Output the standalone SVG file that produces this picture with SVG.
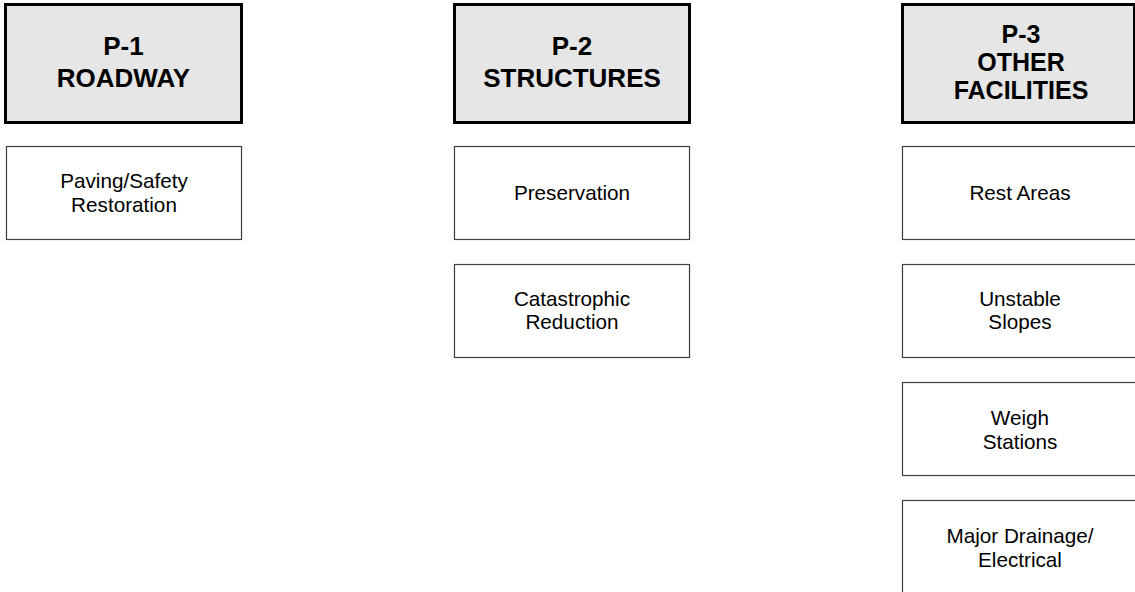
<svg xmlns="http://www.w3.org/2000/svg" width="1135" height="592" viewBox="0 0 1135 592">
<style>
.hdr{fill:#e6e6e6;stroke:#000;stroke-width:3}
.sub{fill:#fff;stroke:#404040;stroke-width:1.2}
.ht{font-family:"Liberation Sans",Arial,sans-serif;font-weight:bold;font-size:26px;fill:#000;text-anchor:middle}
.ht3{font-size:25px}
.st{font-family:"Liberation Sans",Arial,sans-serif;font-size:20.7px;fill:#000;text-anchor:middle}
</style>
<rect width="1135" height="592" fill="#fff"/>
<g id="connectors"/>
<g id="p1">
<rect class="hdr" x="5.5" y="4.5" width="236" height="118"/>
<text class="ht" x="123.5" y="54.5">P-1</text>
<text class="ht" x="123.5" y="87">ROADWAY</text>
</g>
<g id="p1-paving">
<rect class="sub" x="6.5" y="146.5" width="235" height="93"/>
<text class="st" x="124" y="188">Paving/Safety</text>
<text class="st" x="124" y="211.5">Restoration</text>
</g>
<g id="p2">
<rect class="hdr" x="454.5" y="4.5" width="235" height="118"/>
<text class="ht" x="572" y="54.5">P-2</text>
<text class="ht" x="572" y="87">STRUCTURES</text>
</g>
<g id="p2-preservation">
<rect class="sub" x="454.5" y="146.5" width="235" height="93"/>
<text class="st" x="572" y="199.5">Preservation</text>
</g>
<g id="p2-catastrophic">
<rect class="sub" x="454.5" y="264.5" width="235" height="93"/>
<text class="st" x="572" y="305.5">Catastrophic</text>
<text class="st" x="572" y="329">Reduction</text>
</g>
<g id="p3">
<rect class="hdr" x="902.5" y="4.5" width="232" height="118"/>
<text class="ht ht3" x="1021" y="42.7">P-3</text>
<text class="ht ht3" x="1021" y="71">OTHER</text>
<text class="ht ht3" x="1021" y="99.3">FACILITIES</text>
</g>
<g id="p3-rest">
<rect class="sub" x="902.5" y="146.5" width="236" height="93"/>
<text class="st" x="1020" y="199.5">Rest Areas</text>
</g>
<g id="p3-slopes">
<rect class="sub" x="902.5" y="264.5" width="236" height="93"/>
<text class="st" x="1020" y="305.5">Unstable</text>
<text class="st" x="1020" y="329">Slopes</text>
</g>
<g id="p3-weigh">
<rect class="sub" x="902.5" y="382.5" width="236" height="93"/>
<text class="st" x="1020" y="425">Weigh</text>
<text class="st" x="1020" y="449">Stations</text>
</g>
<g id="p3-drainage">
<rect class="sub" x="902.5" y="500.5" width="236" height="100"/>
<text class="st" x="1020" y="543">Major Drainage/</text>
<text class="st" x="1020" y="567">Electrical</text>
</g>
</svg>
